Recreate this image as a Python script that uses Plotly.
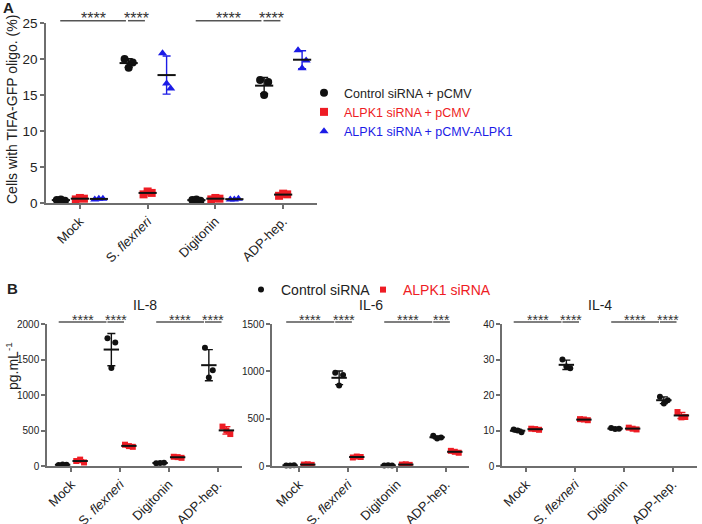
import numpy as np
import plotly.graph_objects as go

W, H = 702, 524
FONT = "Arial, 'Liberation Sans', Helvetica, sans-serif"

# ---------------- data ----------------
categories = ["Mock", "S. <i>flexneri</i>", "Digitonin", "ADP-hep."]

# Panel A: Cells with TIFA-GFP oligo. (%)  (3 replicates per category)
a_ctrl = [[0.4, 0.3, 0.5], [20.0, 19.5, 18.8], [0.4, 0.3, 0.5], [17.1, 16.8, 15.0]]
a_alpk1 = [[0.5, 0.6, 0.7], [1.2, 1.4, 1.6], [0.5, 0.6, 0.7], [1.0, 1.2, 1.3]]
a_rescue = [[0.5, 0.6, 0.6], [20.8, 15.9, 16.6], [0.5, 0.6, 0.5], [21.2, 19.8, 18.7]]
a_names = ["Control siRNA + pCMV", "ALPK1 siRNA + pCMV", "ALPK1 siRNA + pCMV-ALPK1"]

# Panel B: cytokines (pg/mL)
il8_ctrl = [[15, 18, 20], [1800, 1740, 1380], [40, 45, 42], [1665, 1350, 1245]]
il8_alpk1 = [[70, 50, 90], [300, 270, 280], [130, 115, 125], [555, 450, 500]]
il6_ctrl = [[5, 8, 6], [985, 960, 850], [5, 6, 8], [320, 300, 290]]
il6_alpk1 = [[15, 12, 18], [90, 95, 100], [15, 12, 18], [160, 140, 150]]
il4_ctrl = [[10.3, 9.5, 10.0], [30.0, 27.5, 28.0], [10.7, 10.5, 10.4], [19.5, 18.5, 17.6]]
il4_alpk1 = [[10.5, 10.2, 10.4], [13.2, 12.9, 13.1], [10.8, 10.3, 10.5], [15.2, 13.8, 13.7]]
b_names = ["Control siRNA", "ALPK1 siRNA"]

a_yticks = [0, 5, 10, 15, 20, 25]
il8_yticks = [0, 500, 1000, 1500, 2000]
il6_yticks = [0, 500, 1000, 1500]
il4_yticks = [0, 10, 20, 30, 40]

# significance: (cat_a, group_a, cat_b, group_b, label)
sig_a = [(0, 0, 1, 0, "****"), (1, 0, 1, 1, "****"), (2, 0, 3, 0, "****"), (3, 0, 3, 1, "****")]
sig_il8 = [(0, 0, 1, 0, "****"), (1, 0, 1, 1, "****"), (2, 0, 3, 0, "****"), (3, 0, 3, 1, "****")]
sig_il6 = [(0, 0, 1, 0, "****"), (1, 0, 1, 1, "****"), (2, 0, 3, 0, "****"), (3, 0, 3, 1, "***")]
sig_il4 = [(0, 0, 1, 0, "****"), (1, 0, 1, 1, "****"), (2, 0, 3, 0, "****"), (3, 0, 3, 1, "****")]

# ---------------- style ----------------
BLACK = "#111111"
RED = "#ee1c24"
BLUE = "#1c1ce6"
AXC = "#6e6e6e"
TXT = "#222222"


def px(x):
    return x / W


def py(y):
    return 1 - y / H


fig = go.Figure()


def add_groups(series, names, colors, symbols, offsets, jitter, msize, mean_len,
               xa, ya, legends, showlegend):
    for g, (data, name, col, sym, off) in enumerate(zip(series, names, colors, symbols, offsets)):
        xs, ys = [], []
        for ci, vals in enumerate(data):
            for k, v in enumerate(vals):
                xs.append(ci + off + jitter[k])
                ys.append(v)
        label = name if col == BLACK else f'<span style="color:{col}">{name}</span>'
        fig.add_trace(go.Scatter(
            x=xs, y=ys, mode="markers", name=label, legend=legends[g],
            showlegend=showlegend, xaxis=xa, yaxis=ya, cliponaxis=False,
            marker=dict(symbol=sym, size=msize, color=col, line=dict(width=0)),
        ))
        means = [float(np.mean(v)) for v in data]
        sds = [float(np.std(v, ddof=1)) for v in data]
        fig.add_trace(go.Scatter(
            x=[ci + off for ci in range(len(data))], y=means, mode="markers",
            showlegend=False, xaxis=xa, yaxis=ya, cliponaxis=False,
            marker=dict(symbol="line-ew", size=mean_len, color=BLACK,
                        line=dict(width=2, color=BLACK)),
            error_y=dict(type="data", array=sds, visible=True, color=col,
                         thickness=1.4, width=4),
        ))


def add_sig(sig, offsets, xref, ypx, fsize, g1, g2):
    for (ca, ga, cb, gb, lab) in sig:
        x0 = ca + offsets[ga] + g1
        x1 = cb + offsets[gb] + g2
        fig.add_shape(type="line", xref=xref, yref="paper", x0=x0, x1=x1,
                      y0=py(ypx), y1=py(ypx), line=dict(color="#555555", width=1.5))
        fig.add_annotation(xref=xref, yref="paper", x=(x0 + x1) / 2, y=py(ypx),
                           text=lab, showarrow=False, yanchor="middle", yshift=2,
                           font=dict(size=fsize, color="#333333", family=FONT))


# Panel A
offA = [-0.28, 0.0, 0.28]
add_groups([a_ctrl, a_alpk1, a_rescue], a_names, [BLACK, RED, BLUE],
           ["circle", "square", "triangle-up"], offA, [-0.06, 0.06, 0.0], 8, 13,
           "x", "y", ["legend", "legend", "legend"], True)
add_sig(sig_a, offA, "x", 20.7, 16, -0.01, -0.04)

# Panel B
offB = [-0.18, 0.18]
jB = [-0.08, 0.08, 0.0]
for i, (c, r, sig) in enumerate([(il8_ctrl, il8_alpk1, sig_il8),
                                 (il6_ctrl, il6_alpk1, sig_il6),
                                 (il4_ctrl, il4_alpk1, sig_il4)]):
    xa, ya = f"x{i + 2}", f"y{i + 2}"
    add_groups([c, r], b_names, [BLACK, RED], ["circle", "square"], offB, jB, 6, 11,
               xa, ya, ["legend2", "legend3"], i == 0)
    add_sig(sig, offB, xa, 322, 14, -0.08, -0.1)

axis_common = dict(showline=True, linecolor=AXC, linewidth=1.5, ticks="outside",
                   ticklen=4, tickwidth=1.5, tickcolor=AXC, showgrid=False,
                   zeroline=False, fixedrange=True, automargin=False)

xcat = dict(tickmode="array", tickvals=list(range(len(categories))), ticktext=categories,
            tickangle=-45, tickfont=dict(size=13, color=TXT, family=FONT))

leg_common = dict(xanchor="left", yanchor="top", bgcolor="rgba(0,0,0,0)",
                  itemclick=False, itemdoubleclick=False, tracegroupgap=0)

layout = dict(
    template="none",
    width=W, height=H, margin=dict(l=0, r=0, t=0, b=0, autoexpand=False),
    paper_bgcolor="white", plot_bgcolor="white",
    font=dict(family=FONT, color=TXT),
    showlegend=True,
    xaxis=dict(domain=[px(46), px(317)], range=[-0.5, 3.5], anchor="y", **xcat, **axis_common),
    yaxis=dict(domain=[py(203), py(23)], range=[0, 25], anchor="x", tickvals=a_yticks,
               tickfont=dict(size=13.5, color=TXT), **axis_common),
    xaxis2=dict(domain=[px(47), px(242)], range=[-0.5, 3.5], anchor="y2", **xcat, **axis_common),
    yaxis2=dict(domain=[py(466), py(324)], range=[0, 2000], anchor="x2", tickvals=il8_yticks,
                tickfont=dict(size=10, color=TXT), **axis_common),
    xaxis3=dict(domain=[px(272), px(469)], range=[-0.55, 3.47], anchor="y3", **xcat, **axis_common),
    yaxis3=dict(domain=[py(466), py(324)], range=[0, 1500], anchor="x3", tickvals=il6_yticks,
                tickfont=dict(size=10, color=TXT), **axis_common),
    xaxis4=dict(domain=[px(502), px(697)], range=[-0.5, 3.5], anchor="y4", **xcat, **axis_common),
    yaxis4=dict(domain=[py(466), py(324)], range=[0, 40], anchor="x4", tickvals=il4_yticks,
                tickfont=dict(size=10, color=TXT), **axis_common),
    legend=dict(x=px(304), y=py(78), font=dict(size=12.5, color=TXT, family=FONT),
                **leg_common),
    legend2=dict(x=px(241), y=py(274), font=dict(size=14, color=TXT, family=FONT),
                 **leg_common),
    legend3=dict(x=px(363), y=py(274), font=dict(size=14, color=TXT, family=FONT),
                 **leg_common),
)
fig.update_layout(**layout)

# Titles and labels
ann = [
    dict(x=px(8), y=py(7), text="<b>A</b>", font=dict(size=15)),
    dict(x=px(12), y=py(288), text="<b>B</b>", font=dict(size=15)),
    dict(x=px(12), y=py(110), text="Cells with TIFA-GFP oligo. (%)", textangle=-90,
         font=dict(size=14)),
    dict(x=px(12), y=py(366), text="pg.mL<sup>-1</sup>", textangle=-90, font=dict(size=14)),
    dict(x=px(144.5), y=py(305), text="IL-8", font=dict(size=14)),
    dict(x=px(370.5), y=py(305), text="IL-6", font=dict(size=14)),
    dict(x=px(599.5), y=py(305), text="IL-4", font=dict(size=14)),
]
for a in ann:
    fig.add_annotation(xref="paper", yref="paper", showarrow=False, xanchor="center",
                       yanchor="middle", **{k: v for k, v in a.items() if k != "font"},
                       font=dict(family=FONT, color=TXT, **a["font"]))

fig.write_html("out.html", config={"displayModeBar": False},
               post_script="document.body.style.margin='0px';")
